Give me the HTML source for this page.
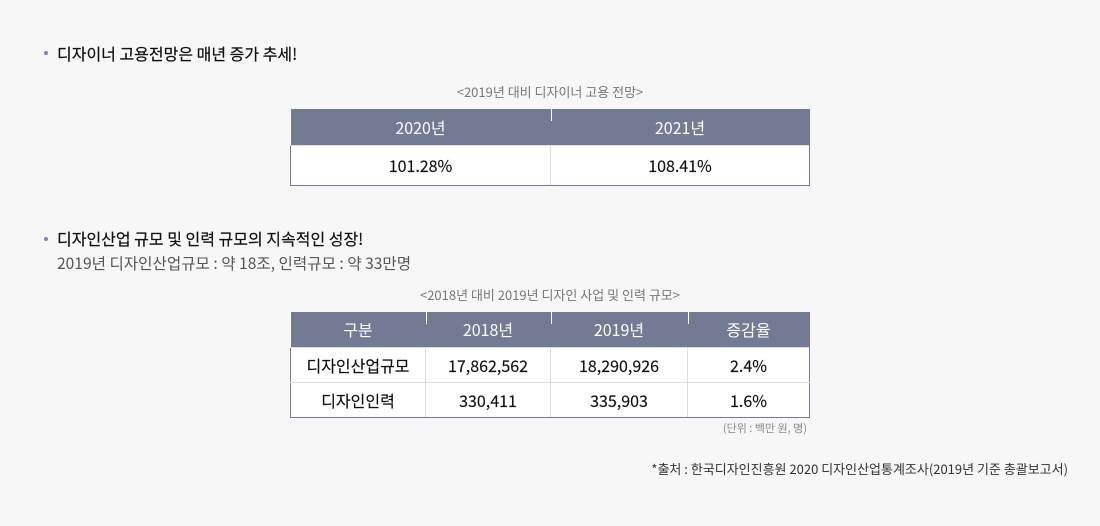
<!DOCTYPE html>
<html><head><meta charset="utf-8"><style>
body{margin:0;width:1100px;height:526px;background:#f7f7f7;font-family:"Noto Sans CJK KR","Liberation Sans",sans-serif;position:relative;overflow:hidden;color:#111}
.a{position:absolute;white-space:nowrap;line-height:1.2}
.b{width:4px;height:4px;border-radius:50%;background:#7a7fc6;position:absolute}
table{position:absolute;border-collapse:collapse;background:#fff;font-size:16px}
th{background:#737a94;color:#fff;font-weight:normal;position:relative;padding:0}
td{border:1px solid #ddd;text-align:center;padding:0;-webkit-text-stroke:0.15px #111}
th span{position:absolute;left:0;top:0;width:1px;height:12px;background:#fff}
tr td:first-child{border-left:1px solid #737a94}
tr td:last-child{border-right:1px solid #737a94}
tr:last-child td{border-bottom:1px solid #737a94}
.h{font-size:16px;font-weight:normal;-webkit-text-stroke:0.2px #111}
</style></head><body>
<div class="b" style="left:44px;top:51px"></div>
<div class="a h" style="left:57px;top:44px">디자이너 고용전망은 매년 증가 추세!</div>
<div class="a" style="left:290px;width:520px;text-align:center;top:84px;font-size:13px;color:#777">&lt;2019년 대비 디자이너 고용 전망&gt;</div>
<table style="left:290px;top:109px;width:520px">
<tr style="height:36px"><th style="width:260px">2020년</th><th><span></span>2021년</th></tr>
<tr style="height:40px"><td>101.28%</td><td>108.41%</td></tr>
</table>
<div class="b" style="left:44px;top:237px"></div>
<div class="a h" style="left:57px;top:229px">디자인산업 규모 및 인력 규모의 지속적인 성장!</div>
<div class="a" style="left:57px;top:254px;font-size:15.6px;color:#555">2019년 디자인산업규모 : 약 18조, 인력규모 : 약 33만명</div>
<div class="a" style="left:290px;width:520px;text-align:center;top:287px;font-size:13px;color:#777">&lt;2018년 대비 2019년 디자인 사업 및 인력 규모&gt;</div>
<table style="left:290px;top:312px;width:520px">
<tr style="height:35px"><th style="width:135px">구분</th><th style="width:125px"><span></span>2018년</th><th style="width:137px"><span></span>2019년</th><th><span></span>증감율</th></tr>
<tr style="height:35px"><td>디자인산업규모</td><td>17,862,562</td><td>18,290,926</td><td>2.4%</td></tr>
<tr style="height:35px"><td>디자인인력</td><td>330,411</td><td>335,903</td><td>1.6%</td></tr>
</table>
<div class="a" style="right:293px;top:422px;font-size:11px;color:#888">(단위 : 백만 원, 명)</div>
<div class="a" style="right:32px;top:461px;font-size:13px;color:#333">*출처 : 한국디자인진흥원 2020 디자인산업통계조사(2019년 기준 총괄보고서)</div>
</body></html>
